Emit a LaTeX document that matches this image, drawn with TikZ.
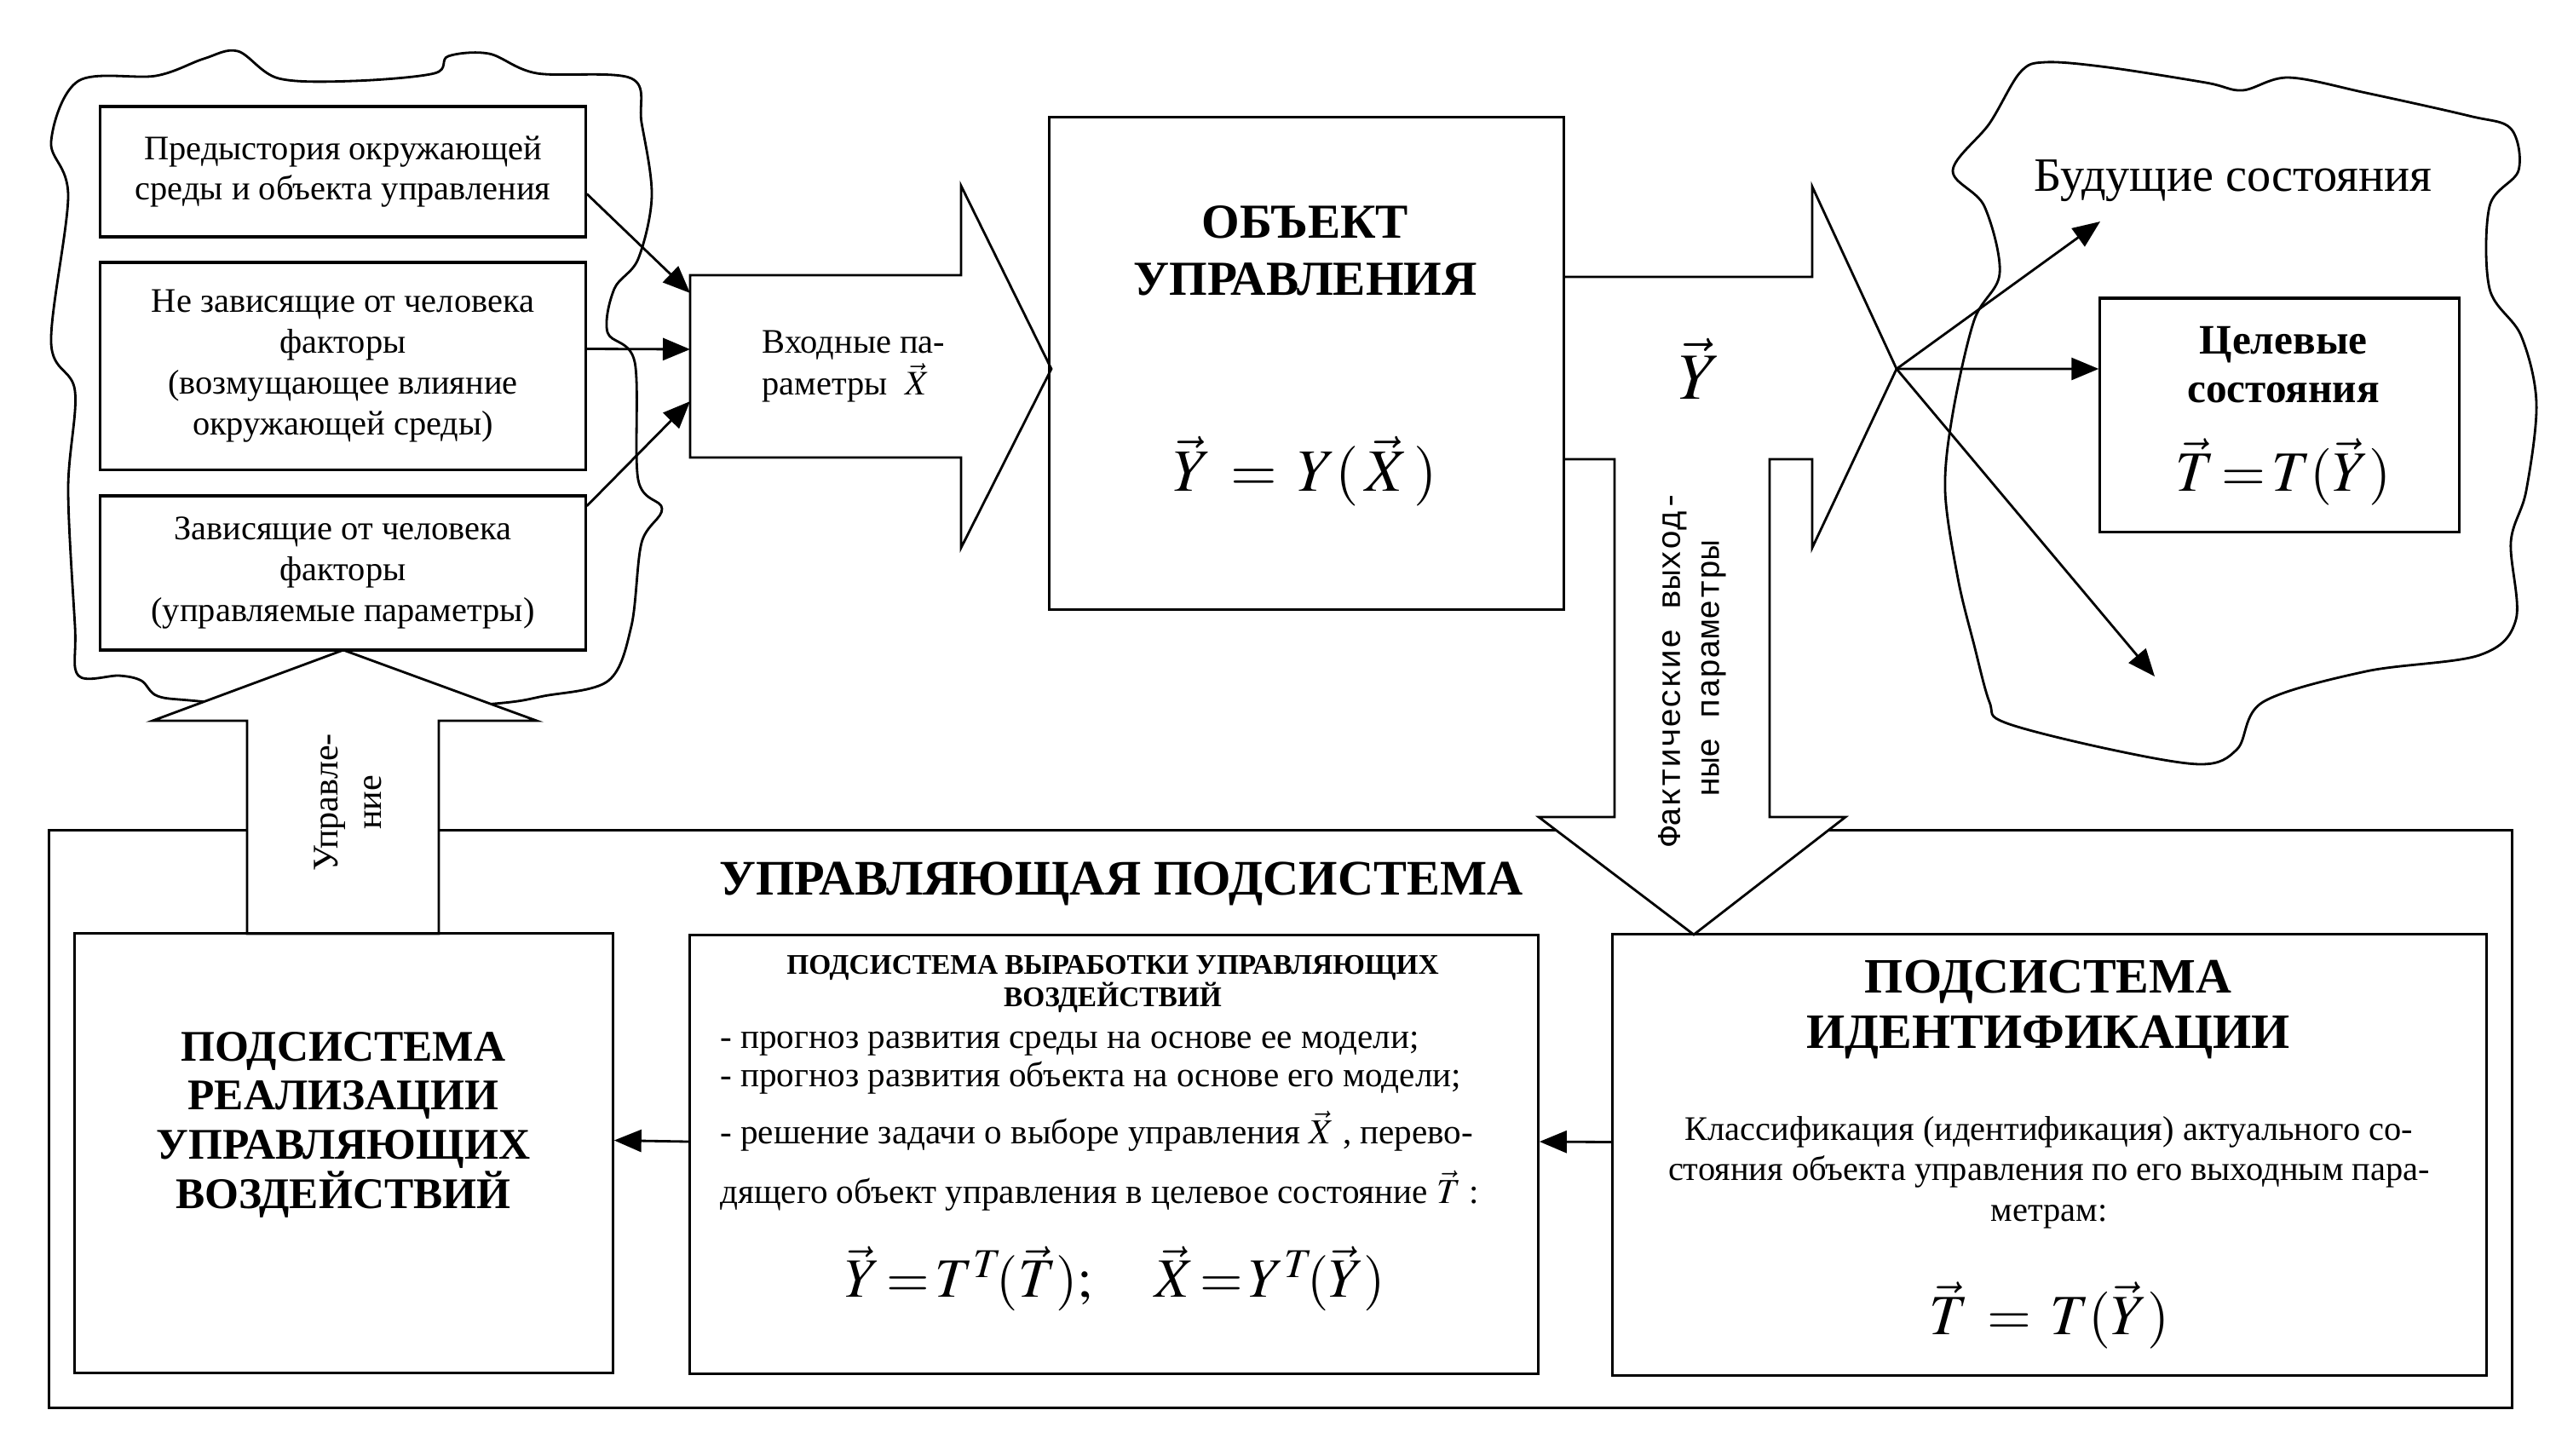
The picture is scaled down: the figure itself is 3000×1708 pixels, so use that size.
\documentclass[tikz,border=0pt]{standalone}
\usepackage{mathptmx}
\usepackage{fontspec}
\setmainfont{Liberation Serif}
\newfontfamily\monofont{Liberation Mono}
\usepackage{tikz}
\usetikzlibrary{arrows.meta}

\begin{document}
\begin{tikzpicture}[x=0.01cm, y=-0.01cm, line width=0.8pt,
    box/.style={draw, line width=0.9pt, inner sep=0pt},
    arr/.style={-{Triangle[length=0.32cm, width=0.26cm]}},
    blockarrow/.style={draw, fill=white, line width=0.8pt, line join=miter},
    txt/.style={font=\fontsize{11.5}{13.6}\selectfont, align=center}]
    \useasboundingbox (0,0) rectangle (3000,1708);
    \fill[white] (0,0) rectangle (3000,1708);

    % environment cloud (left)
    \draw plot[smooth cycle, tension=0.55] coordinates {
      (92,95) (183,89) (239,69) (279,60) (327,92) (415,95) (510,86)
      (526,66) (574,63) (630,86) (741,92) (753,144) (765,230) (749,304)
      (721,339) (713,390) (745,425) (749,563) (777,597) (753,637)
      (741,735) (714,799) (638,817) (580,826) (403,838) (233,823)
      (185,817) (166,799) (140,793) (92,793) (88,735) (80,574) (88,459)
      (60,402) (80,230) (60,166)};

    % future states cloud (right)
    \draw plot[smooth cycle, tension=0.55] coordinates {
      (2292,200) (2335,145) (2371,85) (2401,73) (2474,79) (2589,97)
      (2632,106) (2686,91) (2777,109) (2898,136) (2947,151) (2956,200)
      (2922,242) (2922,339) (2959,394) (2977,473) (2965,576) (2947,636)
      (2953,727) (2910,769) (2777,788) (2656,824) (2626,879) (2583,897)
      (2474,879) (2353,848) (2335,824) (2317,757) (2298,679) (2283,576)
      (2292,485) (2317,376) (2347,321) (2329,242)};

    % control subsystem frame
    \node (ctrl) at (1503,1313.5) [box, minimum width=28.9cm, minimum height=6.77cm] {};
    \node (ctrltitle) at (1316,1037) [font=\bfseries\fontsize{16.6}{19}\selectfont]
      {УПРАВЛЯЮЩАЯ ПОДСИСТЕМА};

    % block arrows
    \draw[blockarrow] (810,323) -- (1128,323) -- (1128,218) -- (1234,433)
      -- (1128,643) -- (1128,537) -- (810,537) -- cycle;
    \draw[blockarrow] (1835,325) -- (2127,325) -- (2127,219) -- (2226,433)
      -- (2127,643) -- (2127,539) -- (2077,539) -- (2077,959) -- (2166,959)
      -- (1988,1097) -- (1806,959) -- (1895,959) -- (1895,539) -- (1835,539);
    \draw[blockarrow] (403,763) -- (630,846) -- (515,846) -- (515,1096)
      -- (290,1096) -- (290,846) -- (179,846) -- cycle;

    % input factors
    \node (hist) at (402.5,201.5) [box, fill=white, minimum width=5.69cm, minimum height=1.53cm, txt]
      {Предыстория окружающей\\среды и объекта управления};
    \node (indep) at (402.5,429.5) [box, fill=white, minimum width=5.69cm, minimum height=2.43cm, txt]
      {Не зависящие от человека\\факторы\\(возмущающее влияние\\окружающей среды)};
    \node (dep) at (402.5,672.5) [box, fill=white, minimum width=5.69cm, minimum height=1.81cm, txt]
      {Зависящие от человека\\факторы\\(управляемые параметры)};

    \coordinate (inl) at (810,430);
    \node (inp) at (1002,430) [font=\fontsize{11.5}{14}\selectfont, align=left]
      {Входные па-\\раметры\ \ $\vec{X}$};

    % control object
    \node (obj) at (1533.5,426.5) [box, minimum width=6.03cm, minimum height=5.77cm] {};
    \node (objtitle) at (1532,294) [font=\bfseries\fontsize{16.3}{19}\selectfont, align=center]
      {ОБЪЕКТ\\УПРАВЛЕНИЯ};
    \node (objeq) at (1532,553) [font=\fontsize{20}{24}\selectfont]
      {$\vec{Y}\,=\,Y(\,\vec{X}\,)$};

    \node (yout) at (1995,433) [font=\fontsize{22}{24}\selectfont] {$\vec{Y}$};
    \node (ymeas) at (1986,785) [rotate=90, font=\monofont\fontsize{11}{13}\selectfont, align=center]
      {Фактические выход-\\ные параметры};

    % future and target states
    \node (future) at (2621,212) [font=\fontsize{16}{19}\selectfont] {Будущие состояния};
    \node (target) at (2675.5,487) [box, minimum width=4.21cm, minimum height=2.74cm] {};
    \node (targettitle) at (2680,428) [font=\bfseries\fontsize{14}{16}\selectfont, align=center]
      {Целевые\\состояния};
    \node (targeteq) at (2680,554) [font=\fontsize{19}{22}\selectfont]
      {$\vec{T}\!=\!T(\vec{Y})$};

    \coordinate (ytip) at (2226,433);
    \coordinate (fut1) at (2465,260);
    \coordinate (fut2) at (2529,794);
    \draw[arr] (ytip) -- (fut1);
    \draw[arr] (ytip) -- ([yshift=0.54cm]target.west);
    \draw[arr] (ytip) -- (fut2);

    % control signal
    \node (ctrlsig) at (408,942) [rotate=90, font=\fontsize{12}{14.5}\selectfont, align=center]
      {Управле-\\ние};

    % subsystems
    \node (real) at (403.5,1353.5) [box, minimum width=6.31cm, minimum height=5.15cm] {};
    \node (realtitle) at (403,1320) [font=\bfseries\fontsize{14.6}{16.4}\selectfont, align=center]
      {ПОДСИСТЕМА\\РЕАЛИЗАЦИИ\\УПРАВЛЯЮЩИХ\\ВОЗДЕЙСТВИЙ};

    \node (mid) at (1307.5,1355) [box, minimum width=9.95cm, minimum height=5.14cm] {};
    \node (midtitle) at (1306,1155) [font=\bfseries\fontsize{9.5}{10.8}\selectfont, align=center]
      {ПОДСИСТЕМА ВЫРАБОТКИ УПРАВЛЯЮЩИХ\\ВОЗДЕЙСТВИЙ};
    \node (midtext) at (844,1316) [anchor=west, font=\fontsize{11.7}{13}\selectfont, align=left, inner sep=0pt]
      {- прогноз развития среды на основе ее модели;\\
       - прогноз развития объекта на основе его модели;\\[0.16cm]
       - решение задачи о выборе управления $\vec{X}$ , перево-\\[0.2cm]
       дящего объект управления в целевое состояние $\vec{T}$ :};
    \node (mideq) at (1309,1501) [font=\fontsize{18.5}{22}\selectfont]
      {$\vec{Y}\!=\!T^{T}\!(\vec{T});\quad \vec{X}\!=\!Y^{T}\!(\vec{Y})$};

    \node (ident) at (2405.5,1355.5) [box, minimum width=10.25cm, minimum height=5.17cm] {};
    \node (identtitle) at (2404,1185) [font=\bfseries\fontsize{16.5}{18.4}\selectfont, align=center]
      {ПОДСИСТЕМА\\ИДЕНТИФИКАЦИИ};
    \node (identtext) at (2405,1376) [font=\fontsize{11.5}{13.5}\selectfont, align=center]
      {Классификация (идентификация) актуального со-\\
       стояния объекта управления по его выходным пара-\\метрам:};
    \node (identeq) at (2405,1544) [font=\fontsize{19}{22}\selectfont]
      {$\vec{T}\,=\,T(\vec{Y})$};

    % connectors
    \draw[arr] ([yshift=-0.26cm]hist.east) -- ([yshift=0.86cm]inl);
    \draw[arr] ([yshift=0.2cm]indep.east) -- ([yshift=0.2cm]inl);
    \draw[arr] ([yshift=0.785cm]dep.east) -- ([yshift=-0.41cm]inl);
    \draw[arr] ([yshift=0.15cm]ident.west) -- ([yshift=0.15cm]mid.east);
    \draw[arr] ([yshift=0.15cm]mid.west) -- ([yshift=0.15cm]real.east);
\end{tikzpicture}
\end{document}
